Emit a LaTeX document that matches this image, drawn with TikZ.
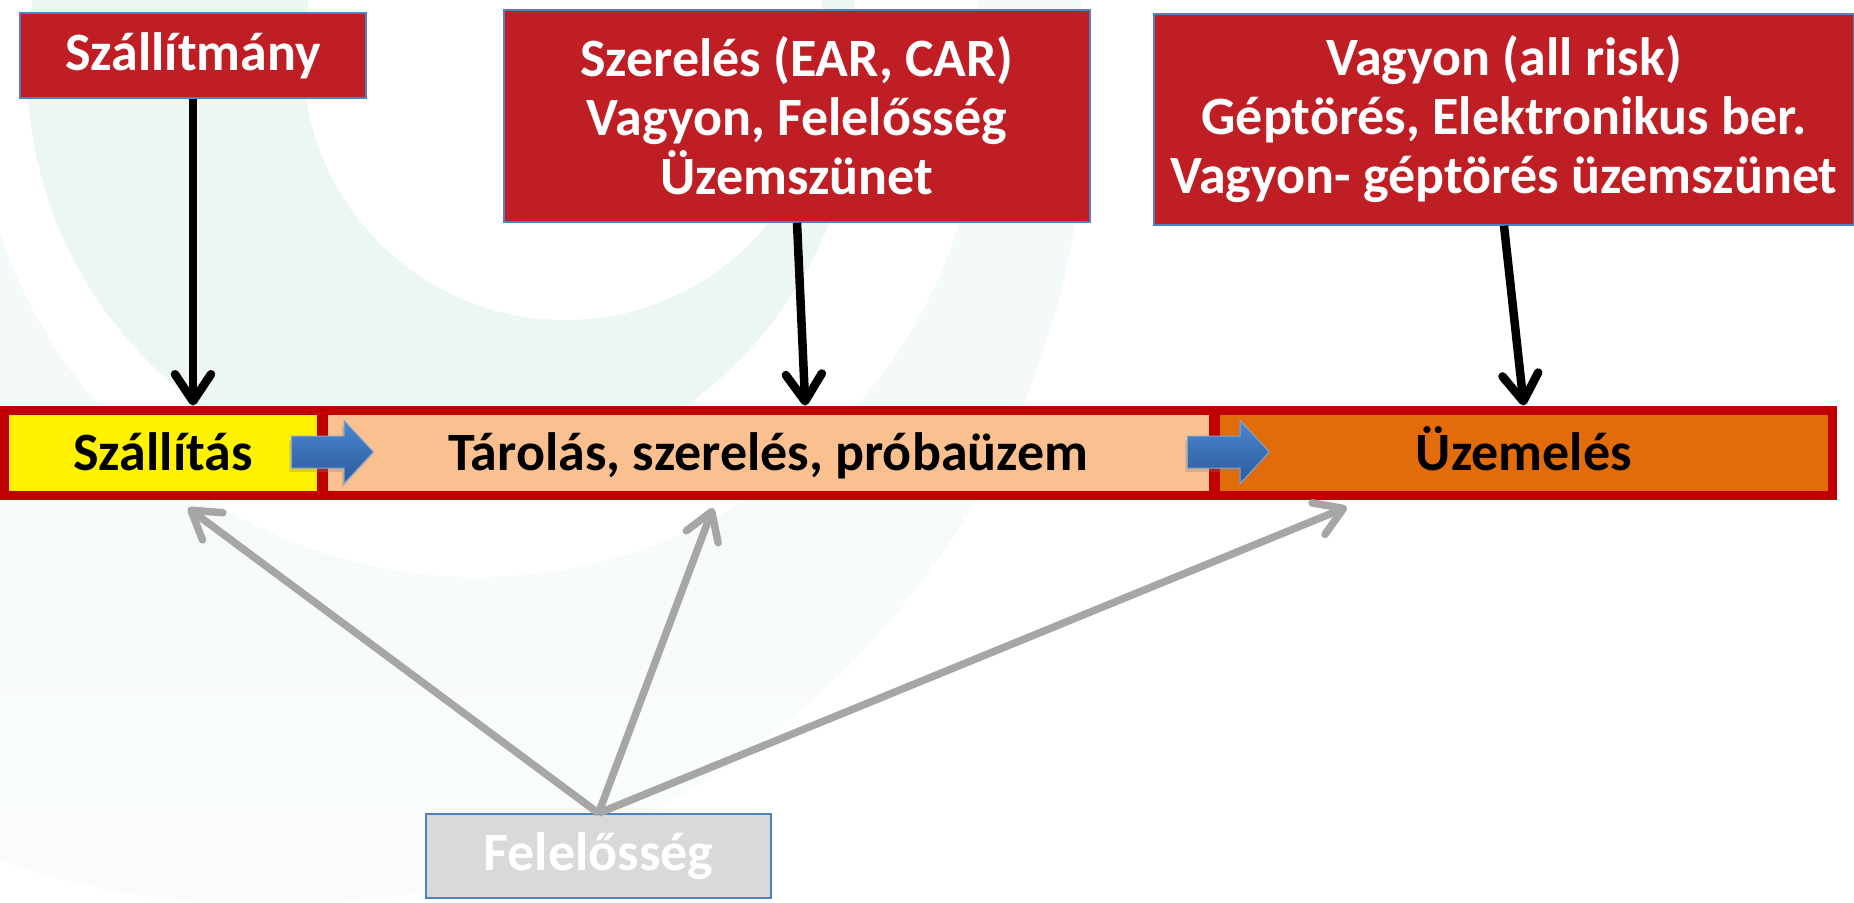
\documentclass[tikz,border=0pt]{standalone}
\usepackage{fontspec}
\setmainfont{Carlito}
\usepackage{tikz}
\usetikzlibrary{positioning, shapes.arrows, arrows.meta, shadows}

\definecolor{boxred}{RGB}{190,30,36}
\definecolor{barred}{RGB}{192,0,0}
\definecolor{edgeblue}{RGB}{79,129,189}
\definecolor{peach}{RGB}{250,192,144}
\definecolor{deeporange}{RGB}{227,108,10}
\definecolor{mint}{RGB}{236,246,243}
\definecolor{greyline}{RGB}{166,166,166}
\definecolor{greybox}{RGB}{217,217,217}
\definecolor{arrowtop}{RGB}{76,134,206}
\definecolor{arrowbottom}{RGB}{44,90,156}

\begin{document}
\begin{tikzpicture}[x = 1pt, y = -1pt,
    every node/.style = { align = center, inner sep = 0pt, font = \fontsize{54}{59}\selectfont\bfseries },
    cover/.style = { draw = edgeblue, line width = 1.5pt, fill = boxred, text = white },
    stage/.style = { draw = barred, line width = 9pt, minimum height = 85pt, text height = 36pt, text depth = 0pt },
    push/.style = { single arrow, draw = edgeblue!70!white, line width = 1pt, top color = arrowtop, bottom color = arrowbottom,
      minimum height = 82pt, inner xsep = 0pt, inner ysep = 15.5pt, single arrow head extend = 15.5pt, single arrow tip angle = 94,
      drop shadow = {shadow xshift=-2pt,shadow yshift=-4pt,opacity=.3} },
    feed/.style = { line width = 8.5pt, -{Straight Barb[length = 27pt, width = 36pt, round]} },
    back/.style = { draw = greyline, line width = 7.5pt, -{Straight Barb[length = 27pt, width = 34pt, round]} }
  ]
  \useasboundingbox (0,0) rectangle (1854,902);

  % template swirl
  \begin{scope}
    \clip (0,0) rectangle (1854,902);
    \shade[top color = mint, bottom color = mint!30!white] (270,90) circle [radius = 816];
    \fill[white] (478,73) circle [radius = 504];
    \fill[mint] (443,68) circle [radius = 416];
    \fill[white] (565,58) circle [radius = 262];
  \end{scope}

  \node[cover, minimum width = 346pt, minimum height = 85pt] (cargo) at (193,55.5) {Szállítmány};
  \node[cover, minimum width = 586pt, minimum height = 212pt] (erect) at (797,116) {Szerelés (EAR, CAR)\\ Vagyon, Felelősség\\ Üzemszünet};
  \node[cover, minimum width = 700pt, minimum height = 211pt] (allrisk) at (1504,119.5) {Vagyon (all risk)\\ Géptörés, Elektronikus ber.\\ Vagyon- géptörés üzemszünet};

  \node[stage, fill = yellow, minimum width = 317pt] (transport) at (163,452.5) {Szállítás};
  \node[stage, fill = peach, minimum width = 889.5pt, right = -7pt of transport] (storage) {Tárolás, szerelés, próbaüzem};
  \node[stage, fill = deeporange, minimum width = 617.5pt, right = -7pt of storage] (operation) {Üzemelés};

  \node[push] (push1) at (325,452) {};
  \node[push] (push2) at (1221,452) {};

  \node[draw = edgeblue, line width = 1.5pt, fill = greybox, text = white, minimum width = 345pt, minimum height = 84pt] (liability) at (598.5,856) {Felelősség};

  \coordinate (hit1) at (188,508);
  \coordinate (hit2) at (713,508);
  \coordinate (hit3) at (1347,507);

  \draw[feed] (cargo.south) -- (cargo.south |- transport.north);
  \draw[feed] (erect.south) -- ([xshift = 37pt]storage.north);
  \draw[feed] (allrisk.south) -- (operation.north);

  \draw[back] (liability.north) -- (hit1);
  \draw[back] (liability.north) -- (hit2);
  \draw[back] (liability.north) -- (hit3);
\end{tikzpicture}
\end{document}
